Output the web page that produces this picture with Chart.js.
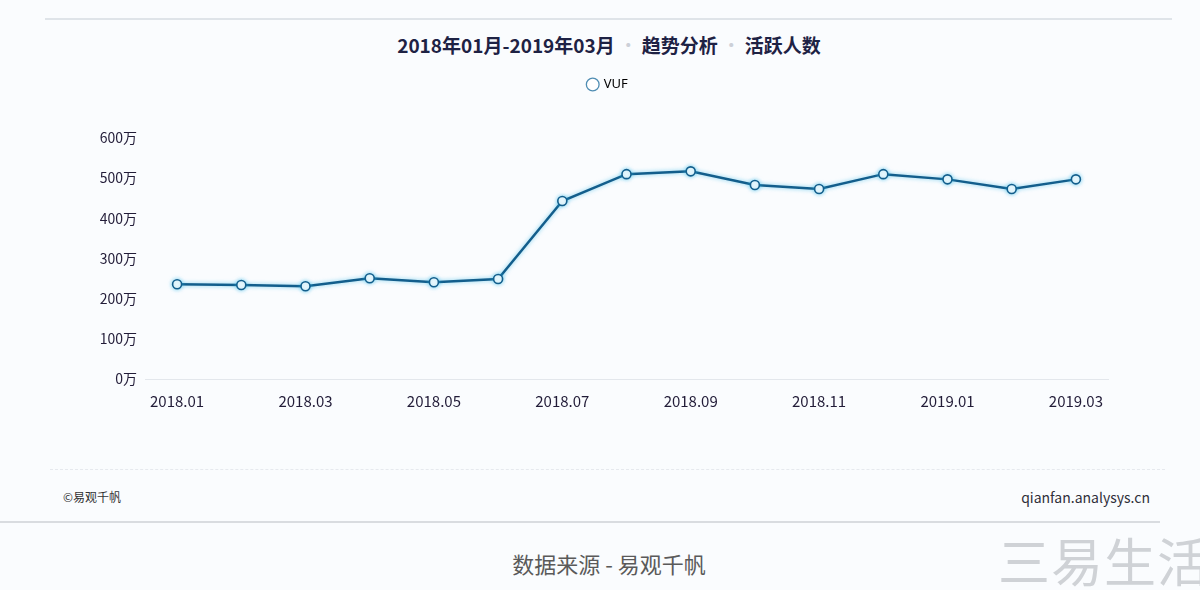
<!DOCTYPE html>
<html>
<head>
<meta charset="utf-8">
<script src="https://cdn.jsdelivr.net/npm/chart.js@4/dist/chart.umd.min.js"></script>
<style>
  body { margin: 0; background: #fafcfe; font-family: "Noto Sans CJK SC", "Noto Sans", sans-serif; }
  #page { position: relative; width: 1200px; height: 590px; overflow: hidden; }
  #topLine { position: absolute; left: 45px; top: 18px; width: 1127px; height: 2px; background: #dfe4e9; }
  #title { position: absolute; left: 0; width: 1218px; top: 31px; text-align: center; font-size: 19px; font-weight: bold; color: #1e2244; white-space: pre; }
  #title .dot { color: #ccd0d8; font-weight: normal; margin: 0 4px; }
  #chartBox { position: absolute; left: 0; top: 0; width: 1200px; height: 433px; }
  #dashLine { position: absolute; left: 50px; top: 469px; width: 1115px; border-top: 1px dashed #e6e9ee; }
  #copy { position: absolute; left: 63px; top: 488px; font-size: 12px; color: #333; }
  #site { position: absolute; right: 50px; top: 487px; font-size: 14px; color: #2f2f3a; }
  #bottomLine { position: absolute; left: 0; top: 521px; width: 1160px; height: 2px; background: #d9dce0; }
  #source { position: absolute; left: 0; width: 1218px; top: 547px; text-align: center; font-size: 22px; color: #5a5a5a; }
  #mark { position: absolute; left: 998px; top: 522px; font-size: 52px; color: #cfd2d6; letter-spacing: 1px; white-space: nowrap; }
</style>
</head>
<body>
<div id="page">
  <div id="topLine"></div>
  <div id="title">2018年01月-2019年03月<span class="dot">·</span>趋势分析<span class="dot">·</span>活跃人数</div>
  <div id="chartBox"><canvas id="trendChart"></canvas></div>
  <div id="dashLine"></div>
  <div id="copy">©易观千帆</div>
  <div id="site">qianfan.analysys.cn</div>
  <div id="bottomLine"></div>
  <div id="source">数据来源 - 易观千帆</div>
  <div id="mark">三易生活</div>
</div>
<script>
// Months on the x axis
const months = ['2018.01', '2018.02', '2018.03', '2018.04', '2018.05', '2018.06', '2018.07',
  '2018.08', '2018.09', '2018.10', '2018.11', '2018.12', '2019.01', '2019.02', '2019.03'];

// Active users (万)
const vufValues = [236, 234, 231, 251, 241, 249, 443, 510, 517, 483, 473, 510, 497, 473, 497];

// Y axis ticks (万)
const yTicks = [0, 100, 200, 300, 400, 500, 600];

const lineColor = '#135e8c';

// Soft cyan glow under the line
const glowPlugin = {
  id: 'glow',
  beforeDatasetDraw(chart) {
    const ctx = chart.ctx;
    ctx.save();
    ctx.shadowColor = 'rgba(40, 180, 230, 0.6)';
    ctx.shadowBlur = 4;
  },
  afterDatasetDraw(chart) {
    chart.ctx.restore();
  }
};

// Push the plot down below the legend and centre the legend on the page
const legendSpacer = {
  id: 'legendSpacer',
  beforeInit(chart) {
    const origFit = chart.legend.fit;
    chart.legend.fit = function () {
      origFit.bind(chart.legend)();
      this.height += 37;
    };
  },
  afterLayout(chart) {
    chart.legend.left = 108;
  }
};

const ctx = document.getElementById('trendChart').getContext('2d');
new Chart(ctx, {
  type: 'line',
  data: {
    labels: months,
    datasets: [{
      label: 'VUF',
      data: vufValues,
      borderColor: lineColor,
      borderWidth: 2.5,
      backgroundColor: '#ffffff',
      pointBackgroundColor: '#ffffff',
      pointBorderColor: lineColor,
      pointBorderWidth: 1.6,
      pointRadius: 4.5,
      tension: 0,
      fill: false
    }]
  },
  options: {
    responsive: true,
    maintainAspectRatio: false,
    animation: false,
    layout: { padding: { top: 68, right: 92, bottom: 10, left: 0 } },
    scales: {
      x: {
        offset: true,
        grid: { display: false, drawTicks: false },
        border: { display: true, color: '#e3e7ec', width: 1 },
        ticks: {
          padding: 13,
          autoSkip: false,
          maxRotation: 0,
          color: '#221c38',
          font: { family: 'Noto Sans CJK SC', size: 15 },
          callback: function (value, index) {
            return index % 2 === 0 ? months[index] : '';
          }
        }
      },
      y: {
        min: yTicks[0],
        max: yTicks[yTicks.length - 1],
        afterFit(scale) { scale.width = 145; },
        afterBuildTicks(scale) { scale.ticks = yTicks.map(v => ({ value: v })); },
        grid: { display: false, drawTicks: false },
        border: { display: false },
        ticks: {
          padding: 8,
          color: '#221c38',
          font: { family: 'Noto Sans CJK SC', size: 14 },
          callback: v => v + '万'
        }
      }
    },
    plugins: {
      title: { display: false },
      legend: {
        position: 'top',
        labels: {
          usePointStyle: true,
          pointStyle: 'circle',
          boxHeight: 9,
          boxWidth: 9,
          padding: 10,
          color: '#2a2a3a',
          font: { family: 'Noto Sans', size: 13 },
          generateLabels: () => [{
            text: 'VUF',
            fillStyle: '#ffffff',
            strokeStyle: '#4f8db3',
            lineWidth: 1.3,
            pointStyle: 'circle',
            datasetIndex: 0
          }]
        }
      },
      tooltip: { enabled: false }
    }
  },
  plugins: [glowPlugin, legendSpacer]
});
</script>
</body>
</html>
